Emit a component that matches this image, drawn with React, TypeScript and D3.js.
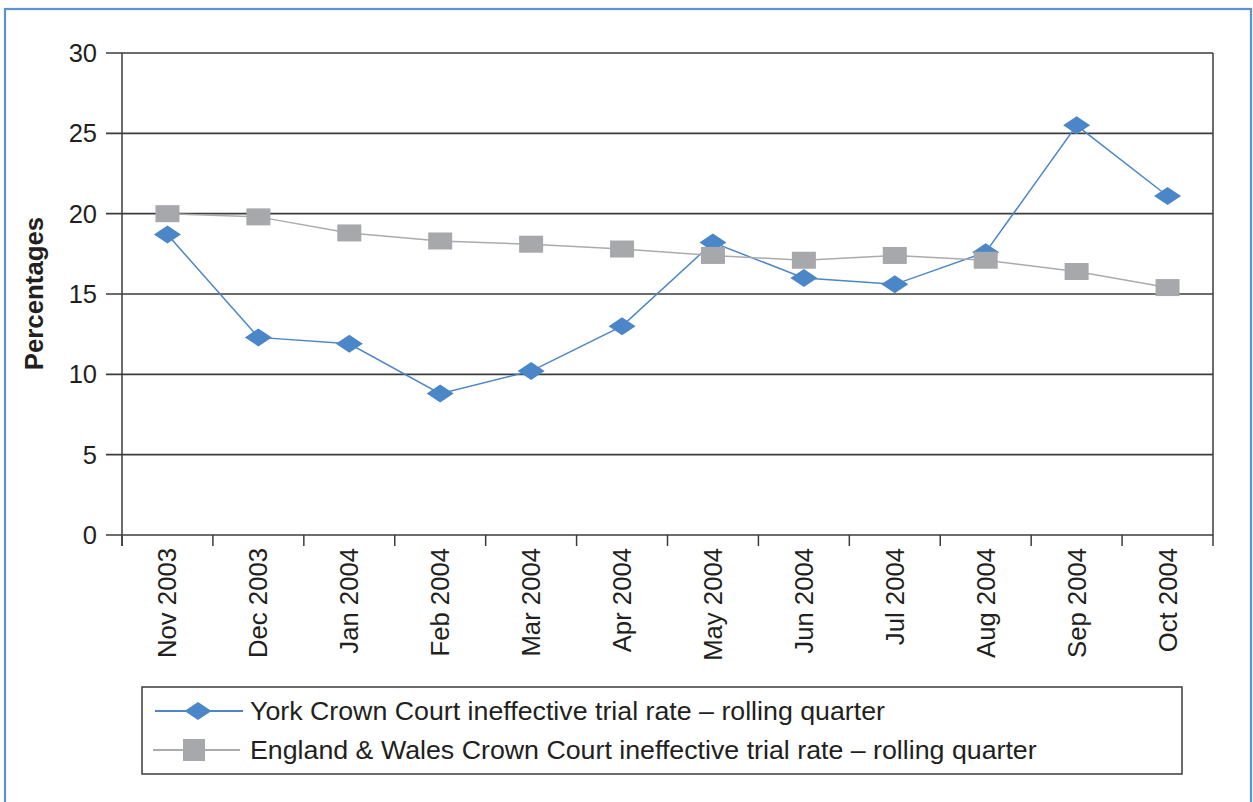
import React from "react";
import * as d3 from "d3";

const months = [
  "Nov 2003", "Dec 2003", "Jan 2004", "Feb 2004", "Mar 2004", "Apr 2004",
  "May 2004", "Jun 2004", "Jul 2004", "Aug 2004", "Sep 2004", "Oct 2004",
];
const yorkRate = [18.7, 12.3, 11.9, 8.8, 10.2, 13.0, 18.2, 16.0, 15.6, 17.6, 25.5, 21.1];
const englandWalesRate = [20.0, 19.8, 18.8, 18.3, 18.1, 17.8, 17.4, 17.1, 17.4, 17.1, 16.4, 15.4];
const yTicks = [0, 5, 10, 15, 20, 25, 30];
const legendLabels = [
  "York Crown Court ineffective trial rate \u2013 rolling quarter",
  "England & Wales Crown Court ineffective trial rate \u2013 rolling quarter",
];

const W = 1253;
const H = 802;
const plot = { left: 122, right: 1213, top: 53, bottom: 535 };
const FONT = "'Liberation Sans', Arial, Helvetica, sans-serif";
const BLUE = "#4b87c8";
const GREY_MARK = "#a7a8ab";
const GREY_LINE = "#ababab";
const GRID = "#3c3c3c";
const TEXT = "#231f20";

const x = d3.scaleBand<string>().domain(months).range([plot.left, plot.right]);
const y = d3.scaleLinear().domain([0, 30]).range([plot.bottom, plot.top]);
const cx = (m: string) => (x(m) as number) + x.bandwidth() / 2;

const diamond = (px: number, py: number, w = 27, h = 18) =>
  `M${px},${py - h / 2}L${px + w / 2},${py}L${px},${py + h / 2}L${px - w / 2},${py}Z`;

const lineGen = d3
  .line<number>()
  .x((_, i) => cx(months[i]))
  .y((v) => y(v));

export default function App() {
  const sqW = 24;
  const sqH = 17;
  return (
    <svg
      width={W}
      height={H}
      style={{ position: "absolute", left: 0, top: 0, background: "#fff" }}
      fontFamily={FONT}
    >
      {/* outer frame */}
      <rect x={5} y={9} width={1246} height={820} fill="none" stroke="#5a92d2" strokeWidth={2.2} />

      {/* horizontal gridlines */}
      {yTicks.map((t) => (
        <line
          key={`g${t}`}
          x1={106}
          x2={plot.right}
          y1={y(t)}
          y2={y(t)}
          stroke={GRID}
          strokeWidth={1.6}
        />
      ))}
      {/* y axis and right border */}
      <line x1={plot.left} x2={plot.left} y1={plot.top} y2={plot.bottom + 11} stroke={GRID} strokeWidth={1.5} />
      <line x1={plot.right} x2={plot.right} y1={plot.top} y2={plot.bottom + 11} stroke={GRID} strokeWidth={1.5} />
      {/* x ticks at category boundaries */}
      {months.map((m) => (
        <line
          key={`t${m}`}
          x1={x(m) as number}
          x2={x(m) as number}
          y1={plot.bottom}
          y2={plot.bottom + 11}
          stroke={GRID}
          strokeWidth={1.5}
        />
      ))}

      {/* y tick labels */}
      {yTicks.map((t) => (
        <text
          key={`yl${t}`}
          x={97}
          y={y(t)}
          dy="0.35em"
          textAnchor="end"
          fontSize={25.5}
          fill={TEXT}
        >
          {t}
        </text>
      ))}

      {/* y axis title */}
      <text
        transform={`translate(34,293.5) rotate(-90)`}
        dy="0.35em"
        textAnchor="middle"
        fontSize={25.8}
        fontWeight="bold"
        fill={TEXT}
      >
        Percentages
      </text>

      {/* x labels */}
      {months.map((m) => (
        <text
          key={`xl${m}`}
          transform={`translate(${cx(m)},548) rotate(-90)`}
          dy="0.35em"
          textAnchor="end"
          fontSize={25.7}
          fill={TEXT}
        >
          {m}
        </text>
      ))}

      {/* York series */}
      <path d={lineGen(yorkRate) as string} fill="none" stroke={BLUE} strokeWidth={1.5} />
      {yorkRate.map((v, i) => (
        <path key={`yd${i}`} d={diamond(cx(months[i]), y(v))} fill={BLUE} />
      ))}

      {/* England & Wales series */}
      <path d={lineGen(englandWalesRate) as string} fill="none" stroke={GREY_LINE} strokeWidth={1.5} />
      {englandWalesRate.map((v, i) => (
        <rect
          key={`es${i}`}
          x={cx(months[i]) - sqW / 2}
          y={y(v) - sqH / 2}
          width={sqW}
          height={sqH}
          fill={GREY_MARK}
        />
      ))}

      {/* legend */}
      <rect x={142} y={687} width={1040} height={87} fill="#fff" stroke="#3c3c3c" strokeWidth={1.5} />
      <line x1={155} x2={243} y1={711} y2={711} stroke={BLUE} strokeWidth={2} />
      <path d={diamond(198, 711)} fill={BLUE} />
      <text
        transform="translate(250,711) scale(1.05,1)"
        dy="0.35em"
        fontSize={25.5}
        fill={TEXT}
      >
        {legendLabels[0]}
      </text>
      <line x1={153} x2={240} y1={750} y2={750} stroke={GREY_LINE} strokeWidth={2} />
      <rect x={194 - 11} y={750 - 11} width={22} height={22} fill={GREY_MARK} />
      <text
        transform="translate(250,750) scale(1.05,1)"
        dy="0.35em"
        fontSize={25.5}
        fill={TEXT}
      >
        {legendLabels[1]}
      </text>
    </svg>
  );
}
